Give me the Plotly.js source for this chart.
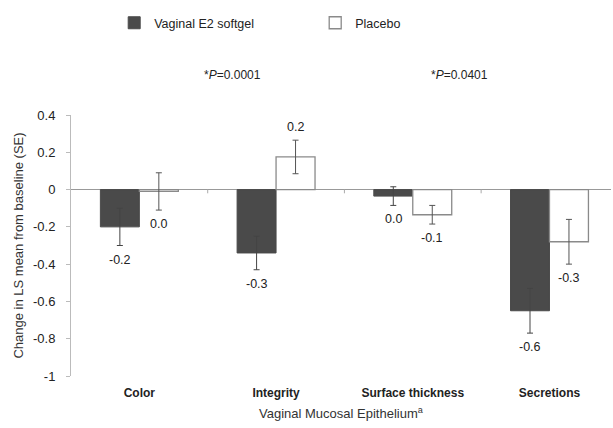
<!DOCTYPE html>
<html><head><meta charset="utf-8">
<script src="https://cdn.plot.ly/plotly-3.0.1.min.js"></script>
<style>html,body{margin:0;padding:0;background:#fff;}#chart{width:613px;height:428px;}</style>
</head><body><div id="chart"></div>
<script>
const categories = ['Color', 'Integrity', 'Surface thickness', 'Secretions'];
const e2Values = [-0.20, -0.34, -0.035, -0.65];
const e2Errors = [0.10, 0.09, 0.05, 0.12];
const e2Labels = ['-0.2', '-0.3', '0.0', '-0.6'];
const placeboValues = [-0.01, 0.175, -0.135, -0.28];
const placeboErrors = [0.10, 0.09, 0.05, 0.12];
const placeboLabels = ['0.0', '0.2', '-0.1', '-0.3'];
const pValues = [null, '*<i>P</i>=0.0001', null, '*<i>P</i>=0.0401'];
const yTicks = [0.4, 0.2, 0, -0.2, -0.4, -0.6, -0.8, -1];
const yTickText = ['0.4', '0.2', '0', '-0.2', '-0.4', '-0.6', '-0.8', '-1'];

const FONT = 'Liberation Sans, Arial, sans-serif';

const traces = [
  {type:'bar', name:'Vaginal E2 softgel', x:categories, y:e2Values,
   marker:{color:'#4a4a4a', line:{color:'#4a4a4a', width:1}},
   error_y:{type:'data', array:e2Errors, visible:true, color:'#444', thickness:1, width:3}},
  {type:'bar', name:'Placebo', x:categories, y:placeboValues,
   marker:{color:'#ffffff', line:{color:'#8a8a8a', width:1.3}},
   error_y:{type:'data', array:placeboErrors, visible:true, color:'#555', thickness:1, width:3}}
];

const annotations = [];
const halfShift = 19.5;
categories.forEach((c, i) => {
  [[e2Values, e2Errors, e2Labels, -halfShift], [placeboValues, placeboErrors, placeboLabels, halfShift]].forEach(([v, e, l, xs]) => {
    const val = v[i], err = e[i];
    const up = val > 0.05;
    annotations.push({x:c, y: up ? val + err : val - err, xref:'x', yref:'y', text:l[i], showarrow:false,
      xshift:xs, yanchor: up ? 'bottom' : 'top', yshift: up ? 4 : -5,
      font:{family:FONT, size:12.5, color:'#222'}});
  });
  if (pValues[i]) {
    annotations.push({x:c, y:1.153, xref:'x', yref:'paper', yanchor:'middle', text:pValues[i], showarrow:false,
      xshift: i === 1 ? -44 : -90, font:{family:FONT, size:12, color:'#222'}});
  }
});
annotations.push({x:0.5, y:-0.142, xref:'paper', yref:'paper', yanchor:'middle', showarrow:false,
  text:'Vaginal Mucosal Epithelium<sup>a</sup>', font:{family:FONT, size:13, color:'#333'}});

const shapes = [0.5, 1.5, 2.5].map(p => ({type:'line', xref:'x', yref:'y', x0:p, x1:p, y0:0, y1:-0.02,
  line:{color:'#aaa', width:1}}));

const layout = {
  width:613, height:428,
  margin:{l:71, r:2, t:115, b:52},
  paper_bgcolor:'#fff', plot_bgcolor:'#fff',
  font:{family:FONT, color:'#222'},
  barmode:'group', bargap:0.43, bargroupgap:0,
  showlegend:true,
  legend:{orientation:'h', x:0.08, y:1.352, xanchor:'left', yanchor:'middle',
    font:{family:FONT, size:12.5, color:'#222', weight:'normal'}, entrywidth:156, entrywidthmode:'pixels', traceorder:'normal'},
  xaxis:{type:'category', range:[-0.5, 3.45], showline:false, showgrid:false, zeroline:false, ticks:'',
    tickfont:{family:FONT, size:12, color:'#222', weight:'bold'}, ticklabelstandoff:8,
    fixedrange:true},
  yaxis:{range:[-1, 0.4], tickvals:yTicks, ticktext:yTickText, showgrid:false,
    zeroline:true, zerolinecolor:'#999', zerolinewidth:1,
    showline:true, linecolor:'#bbb', linewidth:1, ticks:'outside', ticklen:4, tickcolor:'#bbb',
    tickfont:{family:FONT, size:13, color:'#222'}, ticklabelstandoff:8,
    title:{text:'Change in LS mean from baseline (SE)', font:{family:FONT, size:13, color:'#333'}, standoff:6}},
  annotations:annotations,
  shapes:shapes
};

Plotly.newPlot('chart', traces, layout, {staticPlot:true, displayModeBar:false});
</script></body></html>
